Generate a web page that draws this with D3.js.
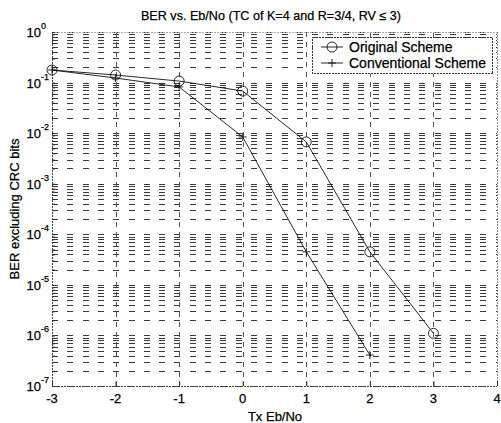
<!DOCTYPE html>
<html>
<head>
<meta charset="utf-8">
<script src="https://cdn.jsdelivr.net/npm/d3@7/dist/d3.min.js"></script>
<style>
  html, body { margin: 0; padding: 0; background: #fff; }
  svg { display: block; font-family: "Liberation Sans", Arial, Helvetica, sans-serif; }
  .lbl { fill: #000; stroke: #000; stroke-width: 0.25; }
</style>
</head>
<body>
<svg id="chart" width="501" height="423"></svg>
<script>
// Eb/No points (dB) and measured BER for the two schemes
const ebnoOriginal = [-3, -2, -1, 0, 1, 2, 3];
const berOriginal = [0.177, 0.141, 0.107, 0.068, 0.0067, 4.5e-5, 1.1e-6];
const ebnoConventional = [-3, -2, -1, 0, 1, 2];
const berConventional = [0.177, 0.123, 0.082, 0.0084, 4.5e-5, 4.1e-7];

// Axis ticks
const xTicks = [-3, -2, -1, 0, 1, 2, 3, 4];
const yExponents = [0, -1, -2, -3, -4, -5, -6, -7];

const seriesNames = ["Original Scheme", "Conventional Scheme"];
const titleText = "BER vs. Eb/No (TC of K=4 and R=3/4, RV \u2264 3)";
const xLabel = "Tx Eb/No";
const yLabel = "BER excluding CRC bits";

const svg = d3.select("#chart");
const W = 501, H = 423;
const plot = { left: 52, right: 497, top: 32, bottom: 386 };

svg.append("rect").attr("width", W).attr("height", H).attr("fill", "#fff");

const x = d3.scaleLinear().domain([-3, 4]).range([plot.left, plot.right]);
const y = d3.scaleLog().domain([1e-7, 1]).range([plot.bottom, plot.top]);

// Log grid: every 1..9 x 10^k
const minorVals = [];
for (let k = -7; k < 0; k++) {
  for (let m = 1; m < 10; m++) minorVals.push(m * Math.pow(10, k));
}
minorVals.push(1);

const grid = svg.append("g").attr("shape-rendering", "crispEdges");
grid.selectAll("line.h").data(minorVals).join("line")
  .attr("class", "h")
  .attr("x1", plot.left).attr("x2", plot.right)
  .attr("y1", d => Math.round(y(d)) + 0.5).attr("y2", d => Math.round(y(d)) + 0.5)
  .attr("stroke", "#3a3a3a").attr("stroke-width", 1)
  .attr("stroke-dasharray", "6,9.3");

grid.selectAll("line.v").data(xTicks.slice(1, -1)).join("line")
  .attr("class", "v")
  .attr("x1", d => Math.round(x(d)) + 0.5).attr("x2", d => Math.round(x(d)) + 0.5)
  .attr("y1", plot.top).attr("y2", plot.bottom)
  .attr("stroke", "#555").attr("stroke-width", 1)
  .attr("stroke-dasharray", "5,5");

// Axes box (dotted frame)
const frame = svg.append("g").attr("shape-rendering", "crispEdges")
  .attr("stroke", "#444").attr("stroke-width", 1).attr("stroke-dasharray", "2,1");
frame.append("line").attr("x1", plot.left).attr("x2", plot.right)
  .attr("y1", plot.bottom + 0.5).attr("y2", plot.bottom + 0.5);
frame.append("line").attr("x1", plot.left + 0.5).attr("x2", plot.left + 0.5)
  .attr("y1", plot.top).attr("y2", plot.bottom);
frame.append("line").attr("x1", plot.right + 0.5).attr("x2", plot.right + 0.5)
  .attr("y1", plot.top).attr("y2", plot.bottom).attr("stroke", "#888");
frame.append("line").attr("x1", plot.left).attr("x2", plot.right)
  .attr("y1", plot.top + 0.5).attr("y2", plot.top + 0.5).attr("stroke", "#aaa");

// Inward tick marks using d3 axes
const xAxis = d3.axisBottom(x).tickValues(xTicks).tickSize(-5).tickFormat("");
svg.append("g").attr("transform", `translate(0,${plot.bottom})`).call(xAxis)
  .call(g => g.select(".domain").remove())
  .call(g => g.selectAll("line").attr("stroke", "#333"));

const yAxis = d3.axisLeft(y).tickValues(minorVals).tickSize(-3).tickFormat("");
svg.append("g").attr("transform", `translate(${plot.left},0)`).call(yAxis)
  .call(g => g.select(".domain").remove())
  .call(g => g.selectAll("line").attr("stroke", "#333"));

// Tick labels
const xl = svg.append("g").attr("font-size", 13);
xl.selectAll("text").data(xTicks).join("text")
  .attr("class", "lbl")
  .attr("x", d => x(d)).attr("y", 403)
  .attr("text-anchor", "middle")
  .text(d => d);

const yl = svg.append("g");
yExponents.forEach(e => {
  const yy = y(Math.pow(10, e));
  yl.append("text").attr("class", "lbl").attr("x", 41).attr("y", yy + 5)
    .attr("text-anchor", "end").attr("font-size", 13).text("10");
  yl.append("text").attr("class", "lbl").attr("x", 41).attr("y", yy - 3)
    .attr("text-anchor", "start").attr("font-size", 9).text(String(e));
});

// Titles
svg.append("text").attr("class", "lbl").attr("x", 271).attr("y", 20).attr("text-anchor", "middle")
  .attr("font-size", 12.6).text(titleText);
svg.append("text").attr("class", "lbl").attr("x", 275).attr("y", 421).attr("text-anchor", "middle")
  .attr("font-size", 13).text(xLabel);
svg.append("text").attr("class", "lbl")
  .attr("transform", `translate(19,${(plot.top + plot.bottom) / 2}) rotate(-90)`)
  .attr("text-anchor", "middle").attr("font-size", 13).text(yLabel);

// Series
const line = d3.line().x(d => x(d[0])).y(d => y(d[1]));
const orig = ebnoOriginal.map((v, i) => [v, berOriginal[i]]);
const conv = ebnoConventional.map((v, i) => [v, berConventional[i]]);

svg.append("path").datum(orig).attr("d", line)
  .attr("fill", "none").attr("stroke", "#111").attr("stroke-width", 0.9);
svg.append("path").datum(conv).attr("d", line)
  .attr("fill", "none").attr("stroke", "#111").attr("stroke-width", 0.9);

svg.selectAll("circle.mk").data(orig).join("circle")
  .attr("class", "mk")
  .attr("cx", d => x(d[0])).attr("cy", d => y(d[1])).attr("r", 5)
  .attr("fill", "none").attr("stroke", "#111").attr("stroke-width", 0.9);

function plusPath(cx, cy, s) {
  return `M${cx - s},${cy}H${cx + s}M${cx},${cy - s}V${cy + s}`;
}
svg.selectAll("path.plus").data(conv).join("path")
  .attr("class", "plus")
  .attr("d", d => plusPath(x(d[0]), y(d[1]), 4))
  .attr("stroke", "#111").attr("stroke-width", 0.9).attr("fill", "none");

// Legend
const lg = svg.append("g");
lg.append("rect").attr("x", 312.5).attr("y", 37.5).attr("width", 180).attr("height", 36)
  .attr("fill", "#fff").attr("stroke", "#333").attr("stroke-width", 1)
  .attr("stroke-dasharray", "2,1").attr("shape-rendering", "crispEdges");
const rows = [47, 63];
rows.forEach((ry, i) => {
  lg.append("line").attr("x1", 321).attr("x2", 343).attr("y1", ry).attr("y2", ry)
    .attr("stroke", "#111").attr("stroke-width", 0.9);
  if (i === 0) {
    lg.append("circle").attr("cx", 332).attr("cy", ry).attr("r", 5)
      .attr("fill", "none").attr("stroke", "#111").attr("stroke-width", 0.9);
  } else {
    lg.append("path").attr("d", plusPath(332, ry, 4))
      .attr("stroke", "#111").attr("stroke-width", 0.9);
  }
  lg.append("text").attr("class", "lbl").attr("x", 349).attr("y", ry + 5).attr("font-size", 14)
    .text(seriesNames[i]);
});
</script>
</body>
</html>
